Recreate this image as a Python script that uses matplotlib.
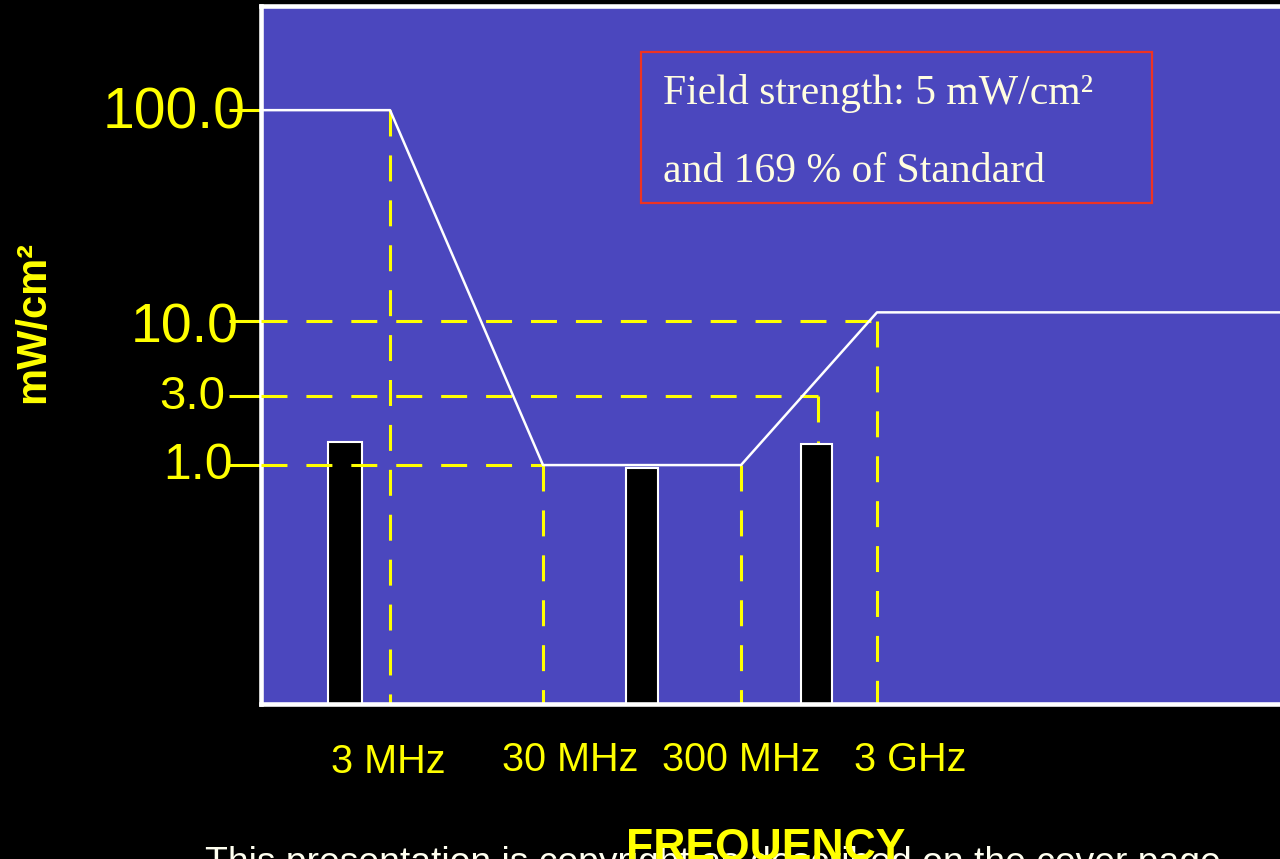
import numpy as np
import matplotlib
matplotlib.use('Agg')
import matplotlib.pyplot as plt
from matplotlib.patches import Rectangle

# values
freq_marks = [3e6, 3e7, 3e8, 3e9]
freq_labels = ['3 MHz', '30 MHz', '300 MHz', '3 GHz']
limit_freq = [3e6, 3e7, 3e8, 3e9]
limit_val = [100.0, 1.0, 1.0, 11.0]
level_vals = [1.0, 3.0, 10.0, 100.0]
level_labels = ['1.0', '3.0', '10.0', '100.0']
hguide_val = [10.0, 3.0, 1.0]
hguide_to = [3e9, 1.1e9, 3e7]
vguide_freq = [3e6, 3e7, 3e8, 1.1e9, 3e9]
vguide_top = [100.0, 1.0, 1.0, 3.0, 10.0]
bar_freq = [1.52e6, 9.5e7, 1.08e9]
bar_val = [1.44, 0.95, 1.40]
note_lines = ['Field strength: 5 mW/cm²', 'and 169 % of Standard']
footer = 'This presentation is copyright as described on the cover page'

YEL = '#FFFF00'
BLUE = '#4B47BE'
W, H = 1280, 859

# the slide's axes are hand drawn: piecewise log scales
KL = np.log10([3e6, 3e7, 3e8, 3e9])
KU = np.array([0.0, 153.0, 351.0, 487.0])


def fx(f):
    l = np.log10(np.clip(f, 1e-30, None))
    u = np.interp(l, KL, KU)
    u = np.where(l < KL[0], KU[0] + (l - KL[0]) * 153, u)
    u = np.where(l > KL[-1], KU[-1] + (l - KL[-1]) * 136, u)
    return u


def fx_inv(u):
    l = np.interp(u, KU, KL)
    l = np.where(u < KU[0], KL[0] + (u - KU[0]) / 153, l)
    l = np.where(u > KU[-1], KL[-1] + (u - KU[-1]) / 136, l)
    return 10 ** l


K = 211 / 144


def fy(v):
    l = np.log10(np.clip(v, 1e-30, None))
    return np.where(l <= 1, l, 1 + (l - 1) * K)


def fy_inv(u):
    return 10 ** np.where(u <= 1, u, 1 + (u - 1) / K)


def fig_xy(px, py):
    return px / W, 1 - py / H


fig = plt.figure(figsize=(W / 100, H / 100), dpi=100, facecolor='black')
ax = fig.add_axes([260.5 / W, (H - 704) / H, (1300 - 260.5) / W, (704 - 6.5) / H])
ax.set_facecolor(BLUE)
ax.set_xscale('function', functions=(fx, fx_inv))
ax.set_yscale('function', functions=(fy, fy_inv))
x0, x1 = 4.27e5, 3.87e12
y0, y1 = 0.0219, 310.0
ax.set_xlim(x0, x1)
ax.set_ylim(y0, y1)
for s in ax.spines.values():
    s.set_color('white')
    s.set_linewidth(3.3)

# bars, width given in pixels
inv = ax.transData.inverted()
bar_px = [34, 32, 31]
lefts, widths = [], []
for f, p in zip(bar_freq, bar_px):
    xd = ax.transData.transform([(f, 1.0)])[0][0]
    l = inv.transform([(xd - p / 2, 1.0)])[0][0]
    r = inv.transform([(xd + p / 2, 1.0)])[0][0]
    lefts.append(l)
    widths.append(r - l)
ax.bar(lefts, np.array(bar_val) - y0, width=widths, bottom=y0, align='edge',
       color='black', edgecolor='white', linewidth=1.5, zorder=2)

# dashed guides (verticals sit behind the bars, horizontals in front)
for v, f in zip(hguide_val, hguide_to):
    ax.plot([x0, f], [v, v], color=YEL, lw=2.2, dashes=(8.5, 6.2), zorder=3)
for f, v in zip(vguide_freq, vguide_top):
    ax.plot([f, f], [v, y0], color=YEL, lw=2.2, dashes=(8.5, 6.2), zorder=1.5)

# limit curve
lx = [x0] + limit_freq + [x1]
ly = [limit_val[0]] + limit_val + [limit_val[-1]]
ax.plot(lx, ly, color='white', lw=1.8, zorder=4)

ax.set_xticks([])
ax.tick_params(axis='x', length=0)
ax.set_yticks(level_vals)
ax.set_yticklabels([])
ax.tick_params(axis='y', direction='out', length=23, width=2.2, color=YEL)
ax.minorticks_off()

ylab_dx = [-28, -35, -22, -15]
ylab_dy = [-14, -13, -21, -18]
ylab_size = [36, 34, 40, 41]
for v, t, dx, dy, fs in zip(level_vals, level_labels, ylab_dx, ylab_dy, ylab_size):
    ax.annotate(t, xy=(0, v), xycoords=ax.get_yaxis_transform(),
                xytext=(dx, dy), textcoords='offset pixels', ha='right',
                va='baseline', color=YEL, fontsize=fs, family='Liberation Sans',
                annotation_clip=False)

xlab_dx = [-2, 27, 0, 33]
xlab_dy = [-69, -67, -67, -67]
for f, t, dx, dy in zip(freq_marks, freq_labels, xlab_dx, xlab_dy):
    ax.annotate(t, xy=(f, 0), xycoords=ax.get_xaxis_transform(),
                xytext=(dx, dy), textcoords='offset pixels', ha='center',
                va='baseline', color=YEL, fontsize=28.5, family='Liberation Sans',
                annotation_clip=False)

# note box
bx, by = fig_xy(641, 203)
fig.add_artist(Rectangle((bx, by), (1152 - 641) / W, (203 - 52) / H,
                         transform=fig.transFigure, fill=False,
                         edgecolor='#EE3322', linewidth=1.6, zorder=2))
for t, base in zip(note_lines, [104, 182]):
    fig.text(*fig_xy(663, base), t, family='Liberation Serif', fontsize=30,
             color='#FFFDE0', va='baseline', zorder=3)

fig.text(*fig_xy(33, 322), 'mW/cm²', rotation=90, ha='center', va='center',
         fontsize=30, fontweight='bold', color=YEL, family='Liberation Sans')
fig.text(*fig_xy(205, 873), footer, fontsize=26.8, color='#FFFFF0',
         family='Liberation Sans', va='baseline', zorder=3)
fig.text(*fig_xy(766, 828), 'FREQUENCY', ha='center', va='top', fontsize=32,
         fontweight='bold', color=YEL, family='Liberation Sans', zorder=4)

fig.savefig('out.png', dpi=100, facecolor='black')
